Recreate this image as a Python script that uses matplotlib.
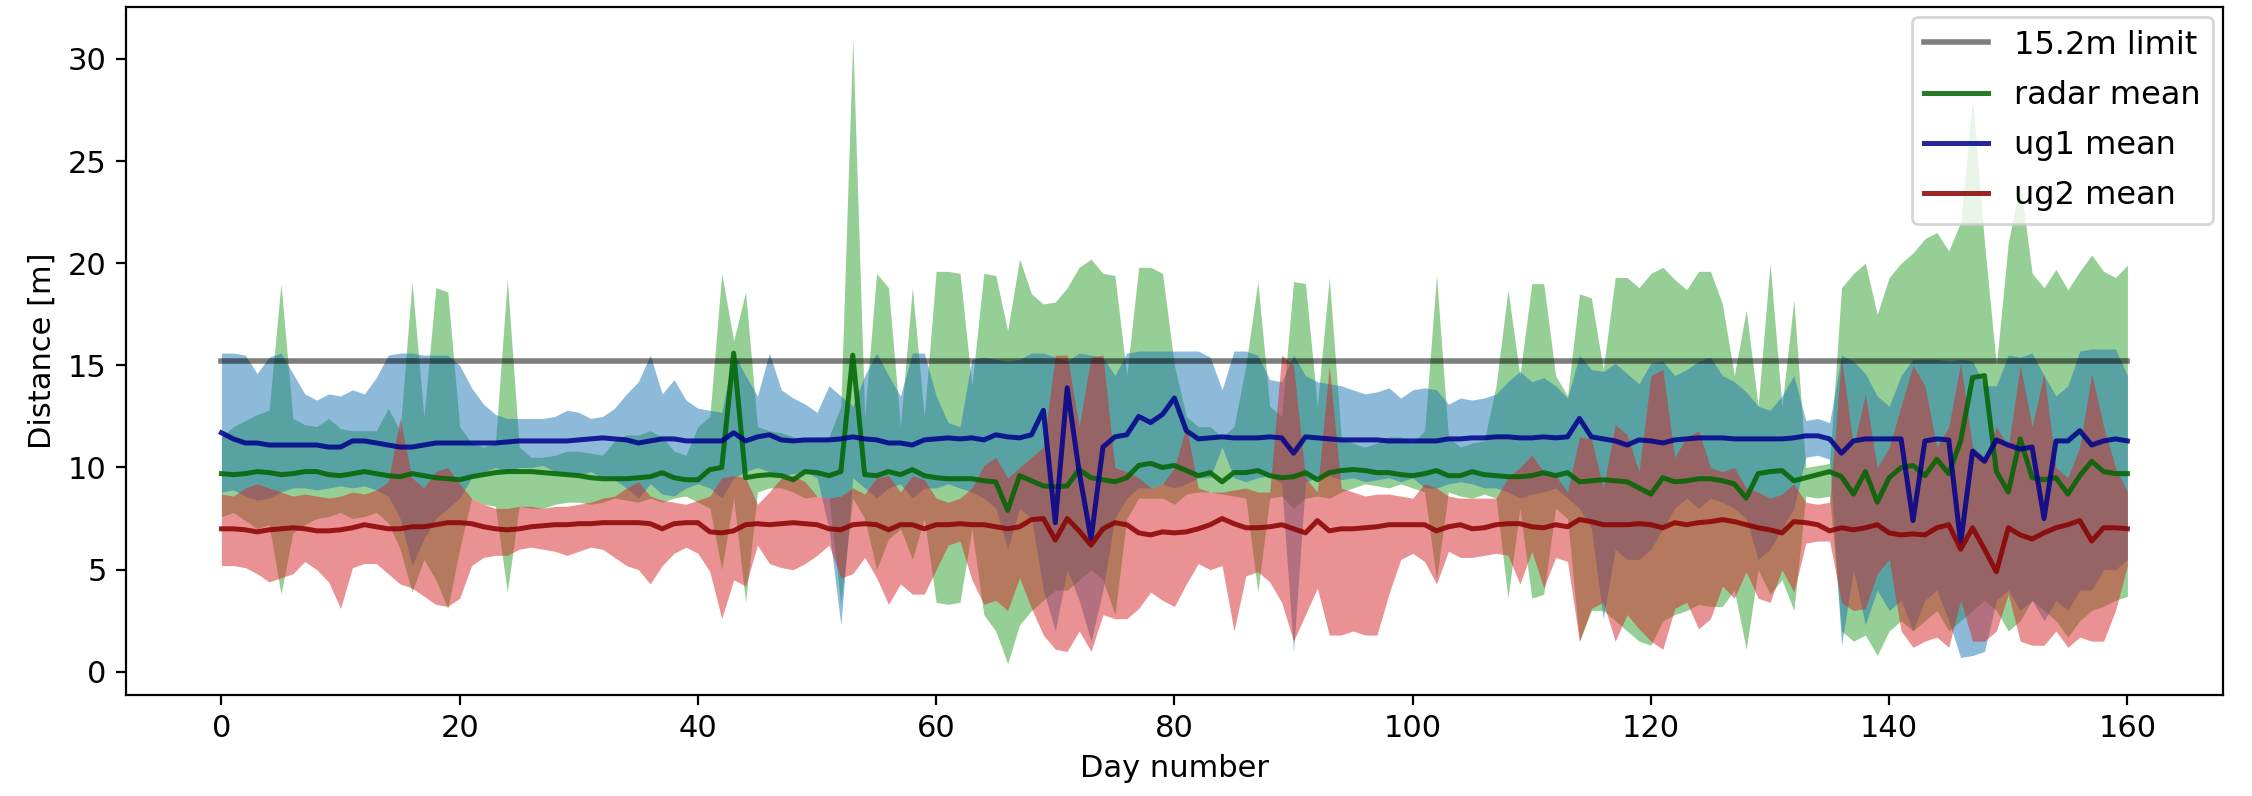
import numpy as np
import matplotlib
matplotlib.use("Agg")
import matplotlib.pyplot as plt

# --- data (one value per day) ---
days = np.arange(161)
limit = 15.2

radar_max = [
    11.5, 12.0, 12.3, 12.6, 12.8, 19.0, 12.4, 12.1, 12.0, 12.4, 11.9, 11.8, 11.8, 11.8, 12.9, 11.8, 19.1, 12.5, 18.8, 18.6, 12.0,
    11.2, 11.0, 11.2, 19.2, 11.0, 10.5, 10.5, 10.6, 10.8, 10.8, 10.7, 10.6, 11.3, 11.6, 11.6, 11.8, 11.5, 10.8, 10.6, 12.0,
    12.5, 19.5, 16.2, 18.6, 12.0, 11.8, 11.7, 11.5, 11.4, 11.4, 11.5, 13.0, 31.0, 12.5, 19.5, 18.8, 12.0, 18.8, 12.5, 19.6,
    19.6, 19.5, 14.0, 19.5, 19.4, 16.7, 20.2, 18.5, 18.0, 18.1, 18.8, 19.8, 20.2, 19.5, 19.4, 14.5, 19.8, 19.8, 19.5, 15.0,
    12.5, 12.0, 12.0, 11.5, 12.0, 15.0, 19.1, 13.0, 12.5, 19.1, 19.0, 13.0, 19.3, 11.5, 11.2, 11.0, 11.2, 11.5, 11.5, 11.2,
    11.8, 19.4, 11.5, 11.0, 11.2, 11.3, 14.0, 18.7, 14.5, 19.0, 19.0, 14.5, 13.5, 18.5, 18.3, 14.8, 19.3, 19.3, 18.8, 19.5,
    19.8, 19.2, 18.7, 19.6, 19.6, 18.0, 14.5, 17.7, 13.0, 20.0, 13.0, 18.2, 10.0, 10.1, 10.2, 18.8, 19.5, 20.0, 17.5, 19.3,
    20.0, 20.5, 21.2, 21.5, 20.6, 22.0, 28.0, 21.0, 15.0, 21.0, 24.0, 19.5, 18.8, 19.7, 18.7, 19.6, 20.4, 19.6, 19.3, 19.9,
]
radar_mean = [
    9.7, 9.65, 9.7, 9.8, 9.75, 9.65, 9.7, 9.8, 9.8, 9.65, 9.6, 9.7, 9.8, 9.7, 9.6, 9.55, 9.7, 9.6, 9.5, 9.45, 9.4,
    9.55, 9.65, 9.75, 9.8, 9.8, 9.8, 9.75, 9.7, 9.65, 9.6, 9.5, 9.45, 9.45, 9.45, 9.5, 9.55, 9.75, 9.5, 9.4, 9.4,
    9.9, 10.0, 15.6, 9.5, 9.6, 9.65, 9.6, 9.4, 9.8, 9.75, 9.6, 9.8, 15.5, 9.65, 9.6, 9.8, 9.65, 9.9, 9.6, 9.5,
    9.45, 9.45, 9.45, 9.35, 9.3, 7.9, 9.6, 9.35, 9.1, 9.05, 9.1, 9.9, 9.5, 9.4, 9.3, 9.5, 10.1, 10.2, 10.0, 10.1,
    9.85, 9.6, 9.75, 9.3, 9.75, 9.75, 9.85, 9.6, 9.5, 9.55, 9.75, 9.4, 9.75, 9.85, 9.9, 9.85, 9.75, 9.75, 9.65, 9.6,
    9.7, 9.85, 9.6, 9.6, 9.8, 9.65, 9.6, 9.55, 9.55, 9.6, 9.75, 9.6, 9.75, 9.3, 9.35, 9.4, 9.35, 9.3, 9.0, 8.7,
    9.5, 9.3, 9.35, 9.45, 9.45, 9.35, 9.2, 8.5, 9.7, 9.8, 9.85, 9.35, 9.5, 9.65, 9.8, 9.55, 8.7, 9.8, 8.3, 9.5,
    10.0, 10.1, 9.6, 10.4, 9.7, 11.3, 14.4, 14.5, 9.8, 8.8, 11.4, 9.5, 9.4, 9.5, 8.7, 9.6, 10.3, 9.8, 9.7, 9.7,
]
radar_min = [
    7.6, 7.8, 7.4, 7.0, 7.2, 3.8, 6.8, 7.2, 7.5, 7.6, 7.8, 7.5, 7.6, 7.8, 7.3, 6.0, 3.9, 5.5, 4.5, 3.1, 6.0,
    8.5, 8.2, 8.1, 3.9, 8.1, 8.0, 8.0, 8.2, 8.3, 8.3, 8.2, 8.3, 8.5, 8.4, 8.3, 8.5, 8.3, 8.5, 8.6, 8.3,
    8.0, 5.0, 8.5, 3.4, 8.8, 9.0, 9.0, 8.8, 8.5, 8.6, 8.5, 3.3, 8.5, 7.5, 5.0, 6.5, 7.0, 5.5, 7.5, 3.4,
    3.3, 3.4, 7.0, 2.8, 2.0, 0.4, 2.3, 3.0, 3.5, 4.0, 4.0, 4.5, 5.0, 4.5, 2.8, 7.5, 8.5, 8.5, 8.5, 8.2,
    8.7, 8.8, 8.8, 8.7, 8.6, 8.5, 3.9, 8.5, 8.6, 8.0, 8.5, 8.6, 8.5, 8.8, 9.0, 9.2, 9.1, 9.0, 9.2, 9.0,
    8.8, 4.5, 8.8, 8.6, 8.5, 8.7, 8.5, 3.6, 8.0, 3.6, 3.8, 8.0, 7.5, 1.5, 3.0, 3.0, 2.5, 2.0, 1.5, 1.3,
    2.5, 2.8, 3.0, 3.3, 3.2, 3.2, 4.0, 1.1, 5.0, 3.8, 4.5, 3.0, 8.6, 8.5, 8.6, 2.0, 1.5, 1.8, 0.8, 2.0,
    2.5, 2.0, 2.5, 3.0, 2.0, 2.5, 3.0, 3.5, 3.0, 2.0, 2.5, 3.5, 3.0, 2.5, 1.7, 2.5, 3.0, 3.2, 3.5, 3.7,
]

ug1_max = [
    15.6, 15.6, 15.5, 14.6, 15.4, 15.6, 14.6, 13.6, 13.3, 13.6, 13.5, 13.8, 13.6, 14.4, 15.5, 15.6, 15.6, 15.5, 15.5, 15.5, 15.0,
    13.9, 13.1, 12.6, 12.4, 12.4, 12.4, 12.4, 12.5, 12.8, 12.7, 12.4, 12.5, 12.9, 13.6, 14.2, 15.5, 13.6, 14.3, 13.3, 12.9,
    12.8, 12.7, 15.6, 14.5, 13.5, 15.6, 13.8, 13.4, 13.1, 12.7, 14.0, 13.5, 13.0, 14.5, 15.6, 14.5, 13.5, 15.6, 15.6, 13.5,
    12.2, 12.0, 15.3, 15.4, 15.3, 15.2, 15.3, 15.6, 15.6, 15.4, 15.2, 15.6, 15.5, 15.4, 14.5, 15.6, 15.7, 15.7, 15.7, 15.7,
    15.7, 15.7, 15.4, 13.8, 15.7, 15.7, 15.5, 14.3, 14.2, 15.5, 14.5, 14.2, 14.1, 14.0, 13.8, 13.6, 13.7, 13.9, 13.4, 13.8,
    13.9, 13.8, 13.1, 13.4, 13.3, 13.4, 13.6, 14.2, 14.7, 14.2, 14.4, 14.0, 13.4, 15.5, 14.8, 14.7, 15.1, 14.6, 14.1, 15.1,
    15.2, 14.5, 14.8, 15.2, 15.4, 14.5, 14.2, 13.7, 13.0, 12.8, 13.5, 14.5, 12.3, 12.4, 12.2, 15.5, 15.2, 14.6, 13.5, 13.0,
    14.5, 15.3, 15.3, 15.3, 15.2, 15.3, 15.2, 14.0, 14.0, 15.5, 15.4, 15.6, 14.5, 13.5, 14.0, 15.7, 15.8, 15.8, 15.8, 14.5,
]
ug1_mean = [
    11.7, 11.4, 11.2, 11.2, 11.1, 11.1, 11.1, 11.1, 11.1, 11.0, 11.0, 11.3, 11.3, 11.2, 11.1, 11.0, 11.0, 11.1, 11.2, 11.2, 11.2,
    11.2, 11.2, 11.2, 11.25, 11.3, 11.3, 11.3, 11.3, 11.3, 11.35, 11.4, 11.45, 11.4, 11.35, 11.2, 11.3, 11.4, 11.4, 11.3, 11.3,
    11.3, 11.3, 11.7, 11.3, 11.5, 11.6, 11.35, 11.3, 11.35, 11.35, 11.35, 11.4, 11.5, 11.4, 11.35, 11.2, 11.2, 11.1, 11.35, 11.4,
    11.45, 11.4, 11.45, 11.35, 11.6, 11.5, 11.45, 11.6, 12.8, 7.3, 13.9, 9.8, 6.5, 11.0, 11.5, 11.6, 12.5, 12.2, 12.6, 13.4,
    11.8, 11.4, 11.45, 11.5, 11.45, 11.45, 11.45, 11.5, 11.45, 10.7, 11.5, 11.45, 11.4, 11.35, 11.35, 11.35, 11.35, 11.3, 11.3, 11.3,
    11.3, 11.3, 11.4, 11.4, 11.45, 11.45, 11.5, 11.5, 11.45, 11.45, 11.5, 11.45, 11.5, 12.4, 11.5, 11.4, 11.3, 11.1, 11.35, 11.3,
    11.2, 11.35, 11.4, 11.45, 11.45, 11.45, 11.4, 11.4, 11.4, 11.4, 11.4, 11.45, 11.55, 11.55, 11.4, 10.7, 11.3, 11.4, 11.4, 11.4,
    11.4, 7.4, 11.3, 11.4, 11.35, 6.3, 10.8, 10.3, 11.35, 11.1, 10.9, 11.0, 7.5, 11.3, 11.3, 11.8, 11.1, 11.3, 11.4, 11.3,
]
ug1_min = [
    8.8, 8.9, 8.6, 8.4, 8.5, 8.8, 9.0, 9.0, 8.9, 9.0, 9.1, 9.0, 9.1, 8.9, 8.6, 7.5, 5.2, 6.5, 7.5, 8.0, 8.5,
    9.5, 9.8, 10.0, 9.8, 10.0, 10.0, 10.1, 9.8, 9.7, 9.6, 9.8, 9.5, 9.4, 9.0, 8.5, 9.2, 8.7, 8.6, 9.0, 9.2,
    9.0, 8.5, 9.5, 9.8, 10.0, 9.8, 9.6, 9.7, 9.8, 9.5, 7.0, 2.3, 9.5, 9.0, 8.5, 9.0, 9.2, 8.5, 9.0, 9.0,
    9.2, 9.0, 8.8, 8.5, 8.0, 6.0, 8.0, 7.5, 4.0, 2.0, 5.0, 3.5, 1.5, 4.0, 7.5, 8.5, 9.0, 9.0, 9.2, 9.0,
    9.2, 9.5, 9.5, 11.0, 9.5, 9.3, 9.5, 9.6, 9.2, 1.0, 9.3, 9.5, 9.6, 9.4, 9.5, 9.3, 9.4, 9.5, 9.3, 9.5,
    9.0, 9.0, 9.2, 9.3, 9.2, 9.0, 9.0, 8.8, 8.5, 8.7, 8.8, 9.0, 8.5, 8.0, 7.0, 2.6, 6.0, 5.5, 5.5, 6.0,
    7.0, 8.0, 8.5, 8.0, 8.5, 8.3, 8.0, 7.5, 5.5, 6.0, 7.0, 8.0, 10.5, 10.6, 10.4, 1.3, 5.0, 2.3, 4.0, 3.0,
    3.5, 2.0, 3.5, 4.0, 2.5, 0.7, 0.8, 1.0, 3.5, 4.0, 3.0, 3.5, 2.5, 3.5, 3.0, 4.0, 4.0, 5.0, 5.0, 5.5,
]

ug2_max = [
    8.7, 8.6, 9.0, 9.2, 9.0, 8.8, 8.6, 8.7, 8.6, 8.5, 8.6, 8.8, 8.7, 8.9, 9.3, 12.4, 9.5, 9.0, 9.8, 10.0, 9.2,
    8.5, 8.2, 8.0, 8.0, 8.1, 8.1, 8.0, 8.1, 8.1, 8.2, 8.3, 8.5, 8.6, 9.0, 9.3, 8.6, 8.4, 8.3, 8.2, 8.4,
    8.6, 9.5, 9.6, 9.5, 8.2, 8.8, 9.5, 9.6, 9.3, 8.6, 8.5, 8.6, 9.0, 8.7, 9.5, 9.6, 8.8, 9.6, 9.4, 8.5,
    8.3, 8.5, 9.0, 10.1, 10.5, 9.5, 10.0, 10.5, 11.0, 15.5, 15.5, 12.0, 15.4, 15.5, 10.0, 9.8, 9.5, 9.0, 9.2, 10.0,
    12.0, 9.0, 8.8, 8.8, 8.9, 9.0, 8.8, 8.8, 15.5, 15.0, 9.5, 8.8, 15.0, 9.0, 8.8, 8.6, 8.7, 8.7, 8.6, 8.5,
    9.2, 9.0, 8.6, 8.5, 8.5, 8.5, 8.5, 9.5, 10.0, 10.6, 9.8, 9.6, 8.8, 11.5, 11.4, 9.0, 12.1, 11.6, 9.8, 14.5,
    14.8, 10.5, 11.5, 11.8, 10.0, 9.8, 10.0, 9.0, 8.8, 8.5, 8.7, 9.2, 8.3, 8.2, 8.3, 15.4, 11.0, 13.6, 10.0, 11.0,
    13.0, 15.0, 14.0, 11.0, 12.0, 15.1, 11.0, 10.5, 12.0, 11.0, 15.0, 12.0, 14.6, 10.0, 9.5, 11.0, 14.6, 12.0, 10.0, 8.8,
]
ug2_mean = [
    7.0, 7.0, 6.95, 6.85, 6.95, 7.0, 7.05, 7.0, 6.9, 6.9, 6.95, 7.05, 7.2, 7.1, 7.0, 7.0, 7.1, 7.1, 7.2, 7.3, 7.3,
    7.25, 7.1, 7.0, 6.95, 7.0, 7.1, 7.15, 7.2, 7.2, 7.25, 7.25, 7.3, 7.3, 7.3, 7.3, 7.25, 7.0, 7.25, 7.3, 7.3,
    6.85, 6.8, 6.9, 7.2, 7.25, 7.2, 7.25, 7.3, 7.25, 7.2, 7.0, 6.95, 7.2, 7.25, 7.2, 6.95, 7.2, 7.2, 7.0, 7.2,
    7.2, 7.25, 7.2, 7.2, 7.1, 7.0, 7.1, 7.45, 7.5, 6.45, 7.5, 6.9, 6.2, 7.0, 7.3, 7.2, 6.8, 6.7, 6.85, 6.8,
    6.85, 7.0, 7.2, 7.5, 7.25, 7.05, 7.05, 7.1, 7.2, 7.0, 6.8, 7.4, 6.9, 7.0, 7.0, 7.05, 7.1, 7.2, 7.2, 7.2,
    7.2, 6.9, 7.1, 7.2, 7.0, 7.05, 7.2, 7.25, 7.25, 7.1, 7.05, 7.2, 7.1, 7.45, 7.35, 7.2, 7.2, 7.2, 7.25, 7.2,
    7.05, 7.3, 7.2, 7.3, 7.35, 7.45, 7.35, 7.2, 7.05, 6.95, 6.8, 7.35, 7.3, 7.2, 6.9, 7.05, 6.95, 7.05, 7.2, 6.8,
    6.7, 6.75, 6.7, 7.05, 7.2, 6.0, 7.05, 6.0, 4.9, 7.05, 6.7, 6.5, 6.8, 7.05, 7.2, 7.4, 6.4, 7.05, 7.05, 7.0,
]
ug2_min = [
    5.2, 5.2, 5.1, 4.8, 4.4, 4.6, 4.8, 5.4, 5.0, 4.4, 3.1, 5.1, 5.3, 5.3, 4.8, 4.3, 4.1, 3.7, 3.3, 3.2, 3.6,
    5.2, 5.6, 5.7, 5.7, 6.0, 6.1, 6.0, 5.9, 5.7, 5.9, 6.1, 6.0, 5.6, 5.2, 5.0, 4.3, 5.2, 5.8, 6.1, 5.8,
    4.9, 2.6, 4.5, 4.2, 6.2, 5.3, 5.1, 5.0, 5.3, 5.7, 6.2, 4.6, 4.8, 5.6, 4.6, 3.3, 4.3, 3.8, 3.8, 5.0,
    6.2, 6.4, 4.5, 3.3, 3.5, 3.0, 4.6, 3.1, 1.8, 1.1, 1.0, 2.0, 1.0, 2.8, 2.6, 2.6, 3.1, 3.9, 3.5, 3.2,
    4.3, 5.3, 5.0, 5.2, 2.0, 4.7, 4.9, 4.4, 3.4, 1.5, 2.8, 4.1, 1.8, 1.8, 2.0, 1.8, 1.8, 3.8, 5.5, 5.8,
    5.4, 4.3, 5.9, 5.6, 5.6, 5.7, 5.8, 5.7, 4.3, 5.9, 4.1, 5.6, 5.4, 1.5, 3.1, 3.4, 1.5, 2.8, 2.1, 1.5,
    1.1, 3.1, 3.4, 2.1, 2.6, 4.2, 3.6, 4.9, 3.6, 3.4, 5.0, 3.9, 6.3, 6.4, 6.4, 3.4, 3.0, 3.1, 4.8, 5.5,
    2.0, 1.2, 1.5, 1.7, 1.2, 3.5, 1.5, 1.5, 2.0, 3.8, 1.5, 1.3, 1.3, 2.0, 1.2, 1.7, 1.5, 1.5, 3.0, 5.2,
]

# --- plot ---
plt.rcParams["font.size"] = 11

fig, ax = plt.subplots(figsize=(11.26, 3.98), dpi=200)
fig.subplots_adjust(left=0.056, right=0.987, bottom=0.127, top=0.991)

ax.plot(days, np.full(len(days), limit), color="k", alpha=0.5, lw=2, label="15.2m limit")

ax.fill_between(days, radar_min, radar_max, color="tab:green", alpha=0.5, lw=0)
ax.plot(days, radar_mean, color="darkgreen", alpha=0.85, lw=1.8, label="radar mean")

ax.fill_between(days, ug1_min, ug1_max, color="tab:blue", alpha=0.5, lw=0)
ax.plot(days, ug1_mean, color="darkblue", alpha=0.85, lw=1.8, label="ug1 mean")

ax.fill_between(days, ug2_min, ug2_max, color="tab:red", alpha=0.5, lw=0)
ax.plot(days, ug2_mean, color="darkred", alpha=0.85, lw=1.8, label="ug2 mean")

ax.set_xlabel("Day number")
ax.set_ylabel("Distance [m]")
ax.legend(loc="upper right", borderaxespad=0.3, fontsize=11.5, labelspacing=0.6)

fig.savefig("out.png", dpi=200)
